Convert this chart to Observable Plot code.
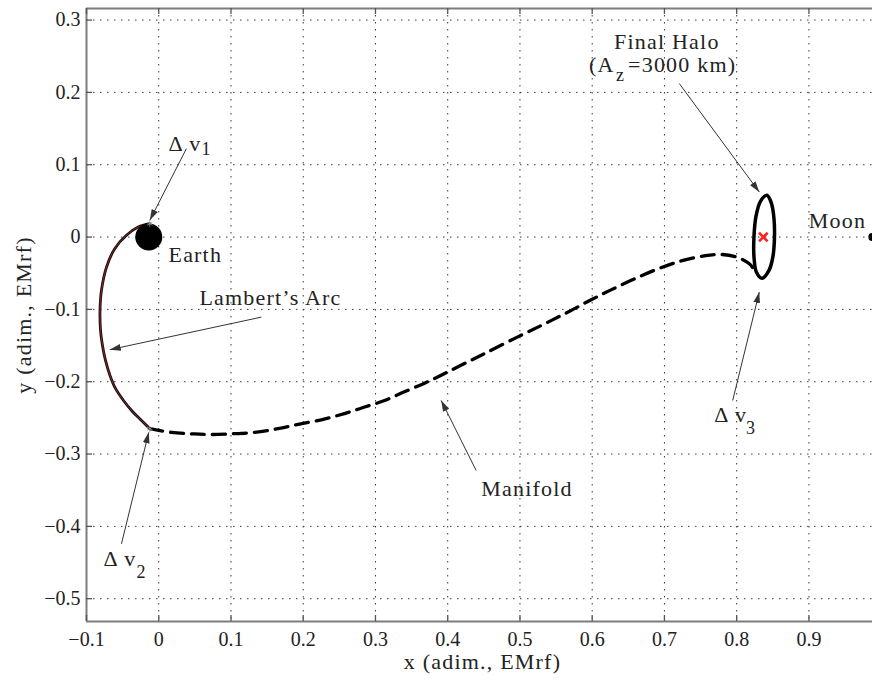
<!DOCTYPE html>
<html>
<head>
<meta charset="utf-8">
<script src="https://cdn.jsdelivr.net/npm/d3@7"></script>
<script src="https://cdn.jsdelivr.net/npm/@observablehq/plot@0.6"></script>
<style>
  body { margin: 0; background: #fff; }
  #chart svg g[font-size="22"] text { letter-spacing: 1.2px; }
</style>
</head>
<body>
<div id="chart"></div>
<script>
// Axis ticks (adimensional Earth–Moon rotating frame)
const xTicks = [-0.1, 0, 0.1, 0.2, 0.3, 0.4, 0.5, 0.6, 0.7, 0.8, 0.9];
const yTicks = [-0.5, -0.4, -0.3, -0.2, -0.1, 0, 0.1, 0.2, 0.3];

// Lambert's arc: departure near Earth to the manifold insertion point
const lambertX = [-0.0124, -0.0285, -0.0447, -0.0609, -0.0723, -0.0793, -0.0813, -0.0806, -0.0779, -0.0737, -0.0675, -0.0599, -0.0488, -0.0364, -0.0239, -0.0124];
const lambertY = [0.0185, 0.0138, 0.0024, -0.0160, -0.0415, -0.0737, -0.1014, -0.1290, -0.1498, -0.1706, -0.1913, -0.2093, -0.2260, -0.2412, -0.2536, -0.2650];

// Stable manifold leading to the final halo
const manifoldX = [-0.0124, 0.0176, 0.0452, 0.0683, 0.1006, 0.1328, 0.165, 0.193, 0.225, 0.257, 0.285, 0.3126, 0.340, 0.368, 0.391, 0.419, 0.451, 0.497, 0.534, 0.566, 0.598, 0.626, 0.658, 0.691, 0.723, 0.755, 0.778, 0.801, 0.8175, 0.826];
const manifoldY = [-0.265, -0.270, -0.272, -0.273, -0.272, -0.270, -0.265, -0.259, -0.2526, -0.244, -0.235, -0.226, -0.214, -0.202, -0.191, -0.177, -0.161, -0.138, -0.120, -0.104, -0.087, -0.073, -0.058, -0.044, -0.033, -0.026, -0.024, -0.028, -0.037, -0.048];

// Final halo orbit (xy projection)
const haloX = [0.8419, 0.8481, 0.8516, 0.8523, 0.8502, 0.8447, 0.8350, 0.8274, 0.8239, 0.8239, 0.8267, 0.8329];
const haloY = [0.0577, 0.0466, 0.0259, -0.0004, -0.0267, -0.0461, -0.0571, -0.0488, -0.0267, -0.0004, 0.0286, 0.0494];

// Bodies and libration point
const earth = [{x: -0.0138, y: 0}];
const moon = [{x: 0.9878, y: 0}];
const l1 = [{x: 0.8369, y: 0}];
const burns = [{x: -0.0124, y: 0.0185}, {x: -0.0124, y: -0.2650}];

// Annotation labels and their subscripts
const labels = [
  {text: "Δ v", x: 0.0135, y: 0.1185},
  {text: "Earth", x: 0.0135, y: -0.0350},
  {text: "Lambert’s Arc", x: 0.0563, y: -0.0945},
  {text: "Δ v", x: -0.0765, y: -0.4554},
  {text: "Manifold", x: 0.4464, y: -0.3586},
  {text: "Δ v", x: 0.7688, y: -0.2563},
  {text: "Final Halo", x: 0.6303, y: 0.2594},
  {text: "(A", x: 0.5957, y: 0.2278},
  {text: "=3000 km)", x: 0.6497, y: 0.2278},
  {text: "Moon", x: 0.8999, y: 0.0120}
];
const subscripts = [
  {text: "1", x: 0.0593, y: 0.1130},
  {text: "2", x: -0.0308, y: -0.4707},
  {text: "3", x: 0.8130, y: -0.2729},
  {text: "z", x: 0.6331, y: 0.2154}
];

// Annotation arrows: tail -> head
const arrows = [
  {x1: 0.0383, y1: 0.1223, x2: -0.0124, y2: 0.0231},
  {x1: 0.1420, y1: -0.1107, x2: -0.0678, y2: -0.1557},
  {x1: -0.0516, y1: -0.4241, x2: -0.0138, y2: -0.2700},
  {x1: 0.4394, y1: -0.3227, x2: 0.3910, y2: -0.2259},
  {x1: 0.7945, y1: -0.2259, x2: 0.8313, y2: -0.0761},
  {x1: 0.7206, y1: 0.2122, x2: 0.8313, y2: 0.0622}
];

const lambert = d3.zip(lambertX, lambertY).map(([x, y]) => ({x, y}));
const manifold = d3.zip(manifoldX, manifoldY).map(([x, y]) => ({x, y}));
const halo = d3.zip(haloX, haloY).map(([x, y]) => ({x, y}));

const width = 872, height = 680;
const margin = {top: 8, right: 0, bottom: 59, left: 86};
const innerW = width - margin.left - margin.right;
const innerH = height - margin.top - margin.bottom;
const xDomain = [-0.1, 0.988];
const yDomain = [-0.5315, 0.316];

const fmt = d => Math.abs(d) < 1e-9 ? "0" : (d < 0 ? "\u2212" : "") + Math.abs(d).toFixed(1);
const serif = "'Liberation Serif', 'Times New Roman', Times, serif";

// Filled triangular arrowhead
function arrowHead(color) {
  const m = d3.create("svg:marker")
    .attr("viewBox", "-11 -4 11 8")
    .attr("markerWidth", 11)
    .attr("markerHeight", 8)
    .attr("markerUnits", "userSpaceOnUse")
    .attr("orient", "auto")
    .attr("refX", 0)
    .attr("refY", 0);
  m.append("path").attr("d", "M0,0L-11,-3.4L-11,3.4Z").attr("fill", color).attr("stroke", "none");
  return m.node();
}

const axisColor = "#7d7d7d";
const gridStyle = {stroke: "#3a3a3a", strokeWidth: 1, strokeDasharray: "1.5,5.5"};

const chart = Plot.plot({
  width, height,
  marginTop: margin.top, marginRight: margin.right, marginBottom: margin.bottom, marginLeft: margin.left,
  x: {domain: xDomain},
  y: {domain: yDomain},
  style: {fontFamily: serif, fontSize: "20px", color: "#222", background: "#fff"},
  marks: [
    // dotted grid
    Plot.ruleX(xTicks, gridStyle),
    Plot.ruleY(yTicks, gridStyle),
    // box (left, bottom, top)
    Plot.ruleX([xDomain[0]], {stroke: axisColor, strokeWidth: 2}),
    Plot.ruleY([yDomain[0], yDomain[1]], {stroke: axisColor, strokeWidth: 2}),
    // inward tick marks
    Plot.ruleX(xTicks, {insetTop: innerH - 6, stroke: "#555", strokeWidth: 1.3}),
    Plot.ruleX(xTicks, {insetBottom: innerH - 6, stroke: "#555", strokeWidth: 1.3}),
    Plot.ruleY(yTicks, {insetRight: innerW - 6, stroke: "#555", strokeWidth: 1.3}),
    // tick labels
    Plot.axisX({ticks: xTicks, tickFormat: fmt, tickSize: 0, tickPadding: 10, label: null, anchor: "bottom"}),
    Plot.axisY({ticks: yTicks, tickFormat: fmt, tickSize: 0, tickPadding: 6, label: null, anchor: "left"}),
    // axis titles
    Plot.text(["x (adim., EMrf)"], {frameAnchor: "bottom", dy: 47, dx: 3, lineAnchor: "bottom", textAnchor: "middle", fontSize: 22, fill: "#222"}),
    Plot.text(["y (adim., EMrf)"], {frameAnchor: "left", dx: -56, rotate: -90, lineAnchor: "bottom", textAnchor: "middle", fontSize: 22, fill: "#222"}),
    // trajectories
    Plot.line(lambert, {x: "x", y: "y", stroke: "#111", strokeWidth: 2.8, curve: "catmull-rom"}),
    Plot.line(lambert, {x: "x", y: "y", stroke: "#a32222", strokeWidth: 0.9, curve: "catmull-rom"}),
    Plot.line(manifold, {x: "x", y: "y", stroke: "#000", strokeWidth: 3.3, strokeDasharray: "13,8", curve: "catmull-rom"}),
    Plot.line(halo, {x: "x", y: "y", stroke: "#000", strokeWidth: 3.5, curve: "catmull-rom-closed"}),
    // bodies
    Plot.dot(earth, {x: "x", y: "y", r: 13.5, fill: "#000"}),
    Plot.dot(moon, {x: "x", y: "y", r: 4, fill: "#000"}),
    Plot.dot(l1, {x: "x", y: "y", symbol: "times", r: 4, stroke: "#ff2020", strokeWidth: 2.6}),
    Plot.dot(burns, {x: "x", y: "y", symbol: "asterisk", r: 3, stroke: "#a0a0a0", strokeWidth: 0.8}),
    // annotations
    Plot.link(arrows, {x1: "x1", y1: "y1", x2: "x2", y2: "y2", stroke: "#333", strokeWidth: 1, markerEnd: arrowHead}),
    Plot.text(labels, {x: "x", y: "y", text: "text", textAnchor: "start", lineAnchor: "bottom", fontSize: 22, fill: "#222"}),
    Plot.text(subscripts, {x: "x", y: "y", text: "text", textAnchor: "start", lineAnchor: "bottom", fontSize: 18, fill: "#222"})
  ]
});

document.getElementById("chart").appendChild(chart);
</script>
</body>
</html>
